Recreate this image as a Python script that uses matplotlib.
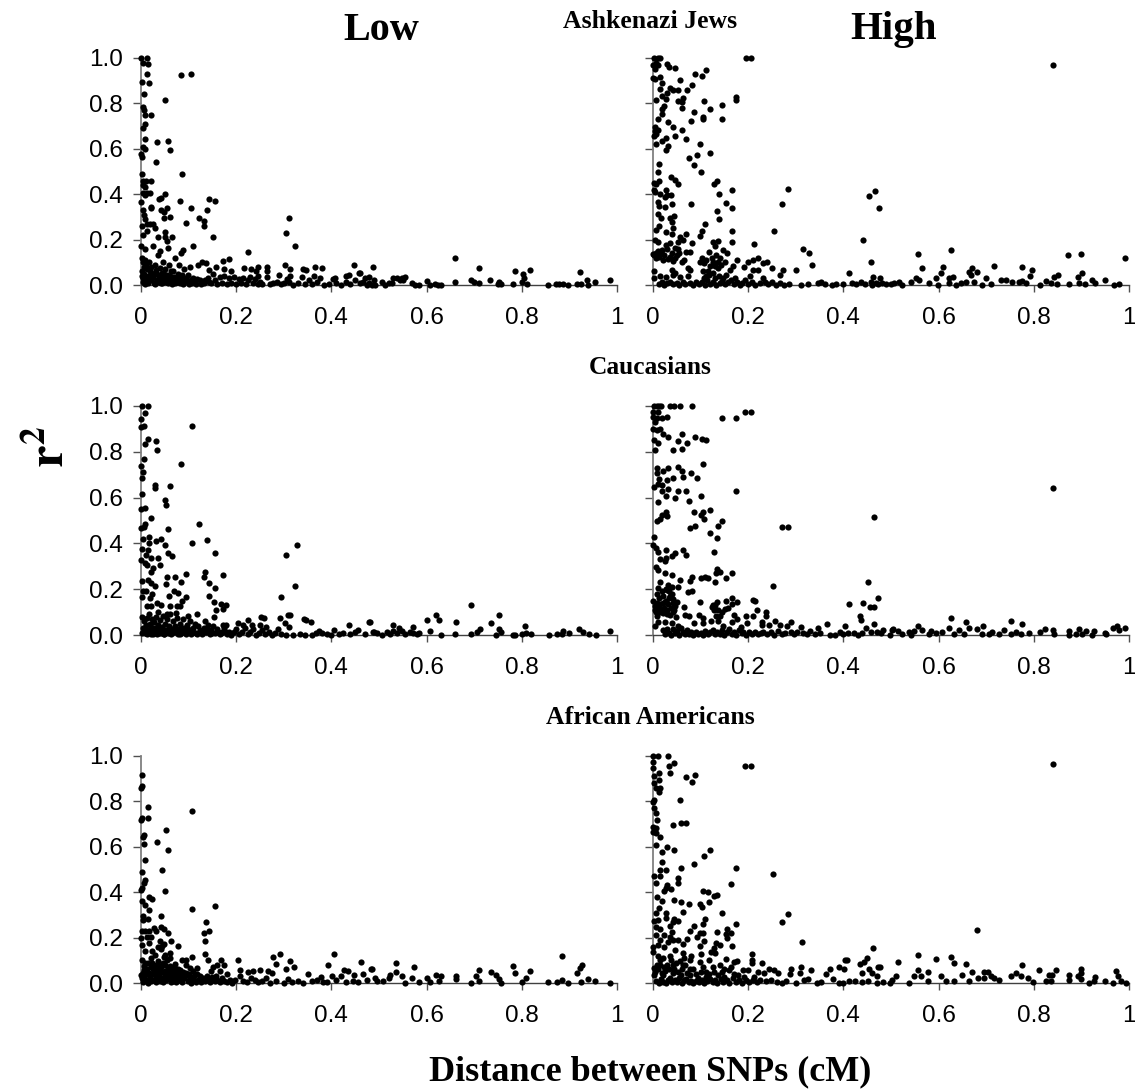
import matplotlib
matplotlib.use("Agg")
import matplotlib.pyplot as plt

plt.rcParams["mathtext.fontset"] = "stix"

# Values as (distance, r2)
aj_low = [
    (.001, 1.0), (.013, 1.0), (.004, .98), (.015, .975), (.013, .93), (.017, .89), (.002, .895), (.006, .84),
    (.004, .785), (.007, .77), (.022, .75), (.008, .75), (.009, .71), (.005, .69), (.008, .645), (.004, .61),
    (.008, .60), (.001, .575), (.003, .565), (.085, .925), (.106, .93), (.050, .815), (.033, .63), (.056, .635),
    (.060, .595), (.032, .54), (.086, .49), (.003, .49), (.022, .46), (.005, .46), (.011, .46), (.004, .44),
    (.008, .43), (.005, .405), (.012, .405), (.018, .405), (.008, .395), (0, .365), (.038, .38), (.051, .40),
    (.041, .385), (.081, .37), (.142, .38), (.155, .37), (.106, .34), (.138, .33), (.122, .295), (.133, .28),
    (.132, .26), (.095, .275), (.020, .34), (.022, .345), (.055, .34), (.043, .33), (.048, .32), (.048, .295),
    (.060, .30), (.005, .33), (.007, .31), (.008, .29), (.003, .26), (.012, .27), (.018, .27), (.005, .22),
    (.013, .24), (.026, .27), (.029, .25), (.036, .21), (.066, .21), (.050, .235), (.050, .21), (.055, .195),
    (.152, .21), (.310, .295), (.305, .23), (.323, .17), (.225, .145), (.110, .17), (.089, .155), (.083, .14),
    (.057, .165), (.040, .15), (.026, .17), (.001, .17), (.008, .16), (.173, .107), (.185, .116), (.157, .08),
    (.175, .07), (.19, .063), (.216, .075), (.232, .072), (.241, .063), (.246, .038), (.246, .079), (.265, .08),
    (.264, .06), (.264, .035), (.29, .045), (.302, .087), (.313, .07), (.313, .038), (.306, .026), (.34, .07),
    (.346, .068), (.339, .035), (.366, .078), (.38, .073), (.363, .041), (.376, .03), (.448, .087), (.488, .078),
    (.457, .053), (.431, .04), (.437, .045), (.404, .026), (.407, .03), (.46, .054), (.48, .034), (.489, .022),
    (.46, .007), (.467, .015), (.474, 0), (.485, 0), (.492, 0), (.506, .015), (.513, 0), (.52, .007),
    (.527, .007), (.53, .03), (.537, .03), (.544, .022), (.548, .03), (.551, .022), (.555, .034), (.569, .01),
    (.576, 0), (.583, 0), (.6, .018), (.607, 0), (.617, .003), (.624, 0), (.631, 0), (.66, .12),
    (.66, .012), (.71, .073), (.694, .022), (.70, .015), (.71, .01), (.734, .023), (.75, .003), (.753, .012),
    (.757, .003), (.781, .003), (.785, .062), (.802, .048), (.805, .03), (.817, .066), (.80, .012), (.811, .003),
    (.856, 0), (.872, .003), (.879, .003), (.886, .003), (.898, 0), (.917, .003), (.924, .003), (.922, .056),
    (.937, .02), (.94, 0), (.953, .013), (.985, .02),
    (.002, .12), (.004, .10), (.006, .08), (.003, .06), (.009, .11), (.011, .09), (.013, .07), (.002, .04),
    (.005, .03), (.007, .05), (.01, .02), (.014, .04), (.016, .10), (.018, .06), (.021, .08), (.023, .03),
    (.025, .05), (.027, .01), (.029, .09), (.031, .065), (.033, .02), (.035, .13), (.037, .04), (.039, .075),
    (.042, .01), (.044, .055), (.046, .10), (.048, .03), (.051, .07), (.053, .015), (.055, .045), (.058, .09),
    (.061, .025), (.063, .06), (.066, .005), (.069, .035), (.072, .12), (.075, .015), (.078, .05), (.08, .09),
    (.084, .03), (.088, .005), (.091, .07), (.095, .02), (.098, .045), (.103, .08), (.107, .01), (.11, .03),
    (.115, .005), (.12, .09), (.124, .02), (.128, .10), (.132, .01), (.136, .095), (.14, .03), (.143, .065),
    (.148, .01), (.152, .05), (.156, .02), (.16, .005), (.165, .035), (.17, .01), (.175, .04), (.18, .005),
    (.185, .03), (.19, .01), (.195, .035), (.2, .005), (.205, .025), (.21, .01), (.215, .03), (.22, .005),
    (.225, .02), (.23, .035), (.235, .01), (.24, .025), (.245, .005), (.25, .015), (.255, .005), (.27, .003),
    (.278, .01), (.285, .015), (.295, .005), (.3, .01), (.31, .015), (.32, 0), (.33, .01), (.345, .005),
    (.352, .02), (.36, .005), (.37, .015), (.385, 0), (.395, .005), (.41, .01), (.42, 0), (.43, .015),
    (.44, .005), (.45, .02), (.47, .03), (.478, .01),
    (.004, .015), (.008, .005), (.012, .03), (.015, .01), (.019, .02), (.022, .055), (.026, .035), (.03, .005),
    (.034, .05), (.038, .015), (.041, .03), (.045, .01), (.049, .05), (.052, .03), (.057, .008), (.06, .04),
    (.065, .02), (.068, .06), (.071, .008), (.074, .03), (.079, .02), (.082, .01), (.086, .045), (.09, .015),
    (.094, .03), (.1, .005), (.105, .02), (.112, .012), (.118, .025), (.126, .005), (.134, .02), (.142, .012),
]

aj_high = [
    (.003, 1.0), (.01, 1.0), (.015, 1.0), (.0, .97), (.007, .978), (.004, .95), (.01, .97), (.029, .974),
    (.034, .96), (.046, .956), (.112, .949), (.089, .931), (.102, .921), (.001, .91), (.005, .908), (.014, .915),
    (.057, .905), (.019, .888), (.082, .882), (.015, .862), (.036, .866), (.041, .857), (.03, .847), (.053, .857),
    (.071, .857), (.018, .831), (.028, .821), (.007, .816), (.175, .829), (.175, .813), (.053, .81), (.062, .822),
    (.06, .808), (.107, .81), (.023, .79), (.018, .776), (.145, .793), (.06, .78), (.119, .776), (.086, .762),
    (.019, .752), (.011, .732), (.106, .742), (.106, .73), (.145, .732), (.079, .722), (.032, .719), (.041, .694),
    (.005, .697), (.011, .682), (.004, .679), (.06, .682), (.002, .657), (.007, .665), (.046, .657), (.027, .646),
    (.019, .633), (.069, .641), (.006, .62), (.099, .62), (.032, .611), (.027, .596), (.119, .583), (.093, .574),
    (.075, .56), (.013, .532), (.087, .528), (.1, .496), (.01, .496), (.037, .475), (.046, .461), (.053, .443),
    (.013, .456), (.002, .449), (.007, .443), (.135, .456), (.129, .445), (.165, .417), (.138, .402), (.002, .42),
    (.005, .41), (.015, .402), (.027, .417), (.029, .395), (.037, .395), (.025, .388), (.284, .421), (.272, .359),
    (.153, .363), (.166, .341), (.079, .359), (.039, .359), (.011, .366), (.013, .348), (.025, .345), (.135, .325),
    (.138, .289), (.011, .312), (.016, .296), (.035, .293), (.044, .303), (.039, .278), (.109, .268), (.013, .259),
    (.007, .242), (.041, .249), (.102, .239), (.099, .216), (.165, .238), (.254, .238), (.028, .232), (.039, .224),
    (.056, .213), (.069, .223), (.004, .198), (.011, .188), (.063, .198), (.081, .184), (.035, .187), (.053, .188),
    (.126, .19), (.137, .195), (.131, .172), (.167, .191), (.213, .179), (.442, .197), (.316, .157), (.328, .14),
    (.333, .087), (.3, .067), (.458, .103), (.466, .415), (.454, .392), (.475, .341), (.411, .055), (.147, .155),
    (.156, .14), (.117, .144), (.077, .144), (.07, .147), (.053, .157), (.046, .162), (.028, .176), (.018, .155),
    (.007, .14), (.001, .137), (.013, .125), (.021, .111), (.035, .125), (.046, .118), (.06, .103), (.102, .118),
    (.098, .103), (.124, .118), (.137, .103), (.151, .103), (.177, .108), (.2, .103), (.211, .111), (.22, .117),
    (.232, .099), (.239, .101), (.251, .073), (.274, .067), (.192, .079), (.211, .064), (.22, .064), (.168, .082),
    (.161, .067), (.13, .082), (.137, .074), (.074, .074), (.077, .067), (.039, .067), (.046, .052), (.003, .06),
    (.002, .031), (.014, .041), (.028, .035), (.042, .045), (.056, .035), (.074, .038), (.105, .06), (.116, .06),
    (.112, .038), (.126, .052), (.154, .045), (.172, .031), (.204, .038), (.232, .031), (.267, .045),
    (.556, .138), (.627, .154), (.565, .073), (.61, .081), (.606, .051), (.594, .029), (.621, .032), (.631, .037),
    (.67, .075), (.664, .059), (.681, .059), (.668, .044), (.717, .084), (.776, .079), (.797, .066), (.792, .041),
    (.872, .131), (.899, .135), (.992, .12), (.85, .044), (.843, .037), (.902, .051), (.893, .037), (.923, .022),
    (.95, .022), (.699, .029), (.552, .032), (.559, .022), (.542, .012), (.476, .032), (.463, .037), (.458, .015),
    (.469, .007), (.481, .007), (.5, .003), (.507, .007), (.516, .015), (.524, 0), (.58, .007), (.598, 0),
    (.622, .007), (.636, 0), (.647, .01), (.657, .015), (.675, .015), (.692, 0), (.71, .003), (.731, .022),
    (.741, .022), (.755, .015), (.769, .015), (.776, .019), (.783, .01), (.813, 0), (.825, .019), (.836, .007),
    (.848, .003), (.874, .003), (.895, .007), (.907, .003), (.929, .007), (.969, 0), (.979, .003), (.84, .97),
    (.195, 1.0), (.206, 1.0),
    (.012, .005), (.018, .012), (.024, 0), (.03, .008), (.036, .015), (.043, .003), (.05, .01), (.055, 0),
    (.062, .012), (.068, .004), (.078, .01), (.084, 0), (.09, .015), (.096, .005), (.103, .012), (.109, 0),
    (.114, .02), (.12, .005), (.127, .015), (.133, 0), (.14, .01), (.146, .018), (.152, .003), (.158, .012),
    (.164, .02), (.17, .005), (.176, .014), (.182, .002), (.188, .01), (.194, .02), (.2, .006), (.208, .013),
    (.214, .002), (.224, .01), (.235, .012), (.242, .003), (.25, .012), (.258, .001), (.266, .008), (.276, .002),
    (.285, .003), (.31, .002), (.325, .004), (.347, .008), (.353, .012), (.362, .005), (.375, .001), (.385, .006),
    (.4, .003), (.418, .01), (.427, .003), (.436, .012), (.445, .005), (.46, .002), (.472, .004), (.49, .003),
    (.003, .13), (.006, .12), (.01, .15), (.016, .14), (.024, .13), (.03, .16), (.032, .115), (.04, .14),
    (.043, .105), (.05, .13), (.055, .14), (.065, .11), (.108, .095), (.112, .11), (.12, .085), (.126, .1),
    (.133, .13), (.14, .12), (.143, .09), (.108, .03), (.118, .045), (.13, .03), (.138, .04), (.148, .03),
]

cau_low = [
    (.003, 1.0), (.015, 1.0), (.008, .97), (0, .945), (0, .908), (.006, .912), (.107, .912), (.015, .857),
    (.031, .848), (.009, .832), (.033, .806), (.085, .747), (.006, .769), (.001, .739), (.005, .712), (.003, .686),
    (.03, .657), (.029, .641), (.061, .65), (.003, .616), (.05, .588), (.052, .569), (.001, .55), (.008, .553),
    (.022, .512), (.008, .486), (.001, .467), (.006, .472), (.056, .463), (.122, .486), (.107, .401), (.138, .416),
    (.155, .358), (.305, .349), (.327, .391), (.323, .215), (.294, .166), (.005, .42), (.017, .426), (.017, .401),
    (.031, .409), (.043, .42), (.05, .394), (.003, .377), (.015, .372), (.056, .358), (.066, .347), (.001, .328),
    (.01, .35), (.02, .336), (.035, .337), (.008, .314), (.012, .307), (.039, .304), (.026, .292), (.02, .277),
    (.054, .253), (.071, .255), (.094, .266), (.134, .276), (.132, .253), (.173, .264), (.003, .234), (.015, .238),
    (.02, .226), (.03, .216), (.052, .223), (.085, .231), (.142, .225), (.156, .204), (.005, .194), (.01, .19),
    (.003, .168), (.024, .18), (.019, .161), (.059, .171), (.069, .19), (.077, .184), (.095, .165), (.086, .15),
    (.143, .169), (.153, .146), (.169, .134), (.178, .131), (.172, .114), (.158, .108), (.012, .127), (.022, .127),
    (.033, .139), (.043, .131), (.061, .127), (.075, .128), (.082, .128), (.118, .09), (.135, .061), (.154, .077),
    (.098, .085), (.073, .095), (.054, .09), (.036, .102), (.252, .079), (.259, .074), (.291, .076), (.308, .086),
    (.314, .088), (.303, .054), (.311, .036), (.288, .026), (.343, .069), (.346, .067), (.358, .058), (.204, .053),
    (.225, .066), (.263, .036), (.251, .044), (.233, .044), (.214, .044), (.179, .044), (.172, .044), (.438, .042),
    (.48, .055), (.456, .022), (.406, .022), (.374, .018), (.367, .007), (.489, .012),
    (.482, .058), (.53, .043), (.541, .03), (.572, .036), (.6, .065), (.619, .087), (.626, .067), (.607, .017),
    (.631, 0), (.661, .057), (.659, .003), (.694, .129), (.693, .003), (.705, .013), (.712, .025), (.735, .054),
    (.753, .086), (.752, .025), (.757, .015), (.746, 0), (.781, 0), (.786, .002), (.806, .039), (.801, .006),
    (.809, .01), (.82, .003), (.858, 0), (.873, .006), (.886, .017), (.884, .003), (.9, .01), (.921, .025),
    (.928, .013), (.941, .006), (.955, 0), (.985, .019), (.488, .013), (.495, .007), (.506, 0), (.516, .013),
    (.523, .003), (.53, .017), (.537, .007), (.548, .017), (.555, .003), (.565, .013), (.572, .01), (.579, .003),
    (.585, .01),
    (.002, .08), (.004, .03), (.006, .06), (.008, .01), (.01, .045), (.012, .075), (.014, .02), (.016, .09),
    (.018, .05), (.02, .005), (.022, .035), (.024, .07), (.026, .015), (.028, .055), (.03, .03), (.032, .08),
    (.034, .005), (.036, .045), (.038, .02), (.04, .065), (.042, .01), (.044, .035), (.046, .085), (.048, .003),
    (.05, .05), (.052, .02), (.055, .07), (.057, .01), (.059, .04), (.061, .09), (.063, .003), (.065, .025),
    (.067, .06), (.069, .012), (.072, .04), (.075, .075), (.077, .005), (.079, .025), (.082, .05), (.085, .01),
    (.088, .07), (.091, .03), (.094, .005), (.097, .045), (.1, .015), (.103, .06), (.106, .003), (.11, .03),
    (.113, .05), (.116, .01), (.12, .04), (.124, .02), (.128, .005), (.132, .03), (.136, .012), (.14, .045),
    (.144, .003), (.148, .022), (.152, .04), (.156, .008), (.16, .025), (.165, .003), (.17, .015), (.175, .03),
    (.18, .005), (.185, .015), (.19, .002), (.195, .012), (.2, .025), (.206, .003), (.212, .015), (.218, .03),
    (.224, .005), (.23, .012), (.236, .025), (.242, 0), (.248, .01), (.254, .02), (.26, .005), (.268, .012),
    (.275, 0), (.282, .008), (.295, .004), (.305, .002), (.32, 0), (.335, .003), (.345, 0), (.36, .002),
    (.38, .01), (.39, .004), (.4, 0), (.415, .004), (.425, .01), (.44, .005), (.45, .015), (.47, .006),
    (.003, .01), (.006, .018), (.009, .03), (.013, .005), (.017, .012), (.021, .025), (.025, .004), (.029, .015),
    (.033, .025), (.037, .008), (.041, .015), (.045, .02), (.049, .006), (.053, .012), (.058, .025), (.062, .008),
    (.066, .012), (.071, .02), (.076, .015), (.081, .006), (.086, .03), (.092, .012), (.098, .025), (.104, .008),
    (.109, .015), (.118, .005), (.126, .012), (.138, .025), (.15, .01), (.162, .015), (.168, .008), (.178, .012),
]

cau_high = [
    (.003, 1.0), (.008, 1.0), (.013, 1.0), (.016, 1.0), (.035, 1.0), (.044, 1.0), (.057, 1.0), (.082, 1.0),
    (.001, .974), (.011, .974), (.001, .952), (.008, .948), (.018, .948), (.029, .95), (.004, .93), (.145, .948),
    (.175, .949), (.194, .972), (.205, .975), (.001, .901), (.008, .897), (.015, .898), (.02, .879), (.061, .878),
    (.032, .863), (.052, .847), (.071, .838), (.089, .864), (.102, .856), (.112, .85), (.003, .85), (.01, .838),
    (.041, .809), (.06, .813), (.004, .806), (.106, .745), (.008, .729), (.009, .707), (.022, .717), (.032, .729),
    (.053, .733), (.06, .714), (.063, .69), (.08, .706), (.093, .685), (.041, .685), (.029, .679), (.013, .681),
    (.011, .66), (.003, .646), (.018, .656), (.032, .638), (.019, .628), (.053, .631), (.07, .628), (.175, .631),
    (.027, .606), (.046, .598), (.075, .587), (.1, .605), (.01, .582), (.119, .545), (.087, .536), (.105, .536),
    (.1, .522), (.108, .507), (.027, .536), (.029, .519), (.018, .522), (.015, .507), (.009, .496), (.464, .517),
    (.145, .496), (.137, .474), (.088, .477), (.078, .466), (.272, .471), (.284, .471), (.119, .446), (.135, .424),
    (.003, .43), (.001, .395), (.006, .379), (.011, .362), (.027, .373), (.064, .373), (.07, .348), (.129, .364),
    (.047, .357), (.039, .344), (.027, .335), (.015, .332), (.025, .321), (.006, .296), (.011, .284), (.025, .271),
    (.039, .264), (.135, .289), (.133, .271), (.14, .274), (.165, .27), (.153, .251), (.13, .23), (.116, .248),
    (.109, .255), (.101, .249), (.082, .255), (.078, .235), (.056, .242), (.015, .23), (.011, .204), (.053, .208),
    (.032, .22), (.039, .208), (.03, .197), (.081, .191), (.073, .187), (.253, .213), (.452, .233), (.473, .162),
    (.441, .14), (.411, .136), (.455, .121), (.464, .121), (.434, .085), (.436, .067), (.464, .05), (.404, .041),
    (.365, .05), (.008, .179), (.022, .172), (.036, .172), (.043, .157), (.001, .15), (.004, .128), (.015, .136),
    (.025, .143), (.032, .136), (.05, .146), (.046, .128), (.065, .122), (.098, .146), (.135, .143), (.13, .131),
    (.124, .121), (.128, .109), (.154, .15), (.166, .162), (.165, .136), (.177, .143), (.21, .155), (.214, .147),
    (.151, .114), (.158, .118), (.144, .099), (.132, .085), (.14, .085), (.219, .111), (.238, .099), (.237, .085),
    (.21, .085), (.195, .085), (.17, .089), (.177, .07), (.198, .052), (.184, .036), (.097, .089), (.105, .073),
    (.121, .063), (.067, .087), (.076, .082), (.036, .089), (.048, .077), (.006, .099), (.008, .082), (.015, .099),
    (.004, .041), (.011, .055), (.025, .055), (.039, .052), (.053, .041), (.086, .051), (.105, .052), (.137, .063),
    (.147, .041), (.165, .055), (.229, .055), (.229, .044), (.244, .045), (.256, .063), (.267, .045), (.281, .041),
    (.289, .055), (.31, .036), (.347, .029), (.329, .019), (.448, .029), (.392, .012), (.422, .009), (.503, .022),
    (.84, .64), (.626, .073), (.657, .058), (.752, .06), (.775, .047), (.694, .039), (.556, .039), (.483, .022),
    (.504, .025), (.514, .017), (.538, .013), (.549, .017), (.566, .02), (.584, .017), (.622, .032), (.643, .022),
    (.664, .032), (.681, .028), (.713, .013), (.738, .022), (.762, .013), (.812, .013), (.824, .025), (.84, .022),
    (.873, .017), (.895, .025), (.909, .017), (.927, .017), (.95, .01), (.967, .032), (.975, .039), (.992, .032),
    (.979, .022), (.497, 0), (.524, .003), (.542, 0), (.58, .003), (.594, .01), (.608, .013), (.633, .003),
    (.654, .003), (.692, .003), (.706, .003), (.727, .003), (.752, .003), (.773, .006), (.79, .01), (.843, .003),
    (.874, 0), (.888, .003), (.902, .003), (.923, 0), (.951, .003),
    (.022, .02), (.025, .005), (.03, .028), (.034, .01), (.038, .002), (.043, .025), (.047, .008), (.051, .018),
    (.055, 0), (.059, .03), (.063, .012), (.067, .003), (.071, .02), (.075, .006), (.08, .015), (.085, 0),
    (.09, .012), (.095, .004), (.1, .01), (.105, .002), (.11, .018), (.115, .005), (.12, .012), (.125, .022),
    (.13, .003), (.135, .015), (.14, .006), (.145, .02), (.15, 0), (.155, .012), (.16, .028), (.165, .005),
    (.17, .015), (.175, .002), (.18, .02), (.186, .008), (.19, .015), (.196, 0), (.202, .012), (.208, .005),
    (.214, .014), (.22, .003), (.226, .01), (.232, .015), (.24, .004), (.248, .012), (.255, .002), (.262, .016),
    (.27, .006), (.278, .01), (.29, .012), (.296, .004), (.302, .013), (.315, .01), (.323, .004), (.34, .005),
    (.35, .008), (.372, .002), (.382, .002), (.4, .005), (.41, .01), (.43, .002), (.44, .01), (.458, .015),
    (.47, .012), (.48, .008),
    (.004, .11), (.008, .14), (.012, .12), (.018, .11), (.02, .14), (.024, .12), (.028, .15), (.03, .11),
    (.034, .16), (.038, .12), (.041, .14), (.044, .11), (.012, .16), (.018, .19), (.027, .2), (.034, .19),
    (.04, .18), (.01, .115), (.022, .095), (.03, .09), (.042, .1), (.125, .13), (.13, .115), (.137, .11),
]

aa_low = [
    (.003, .916), (0, .858), (.002, .87), (.014, .774), (.107, .757), (.001, .72), (.003, .729), (.014, .726),
    (.052, .672), (.006, .652), (.005, .641), (.007, .614), (.034, .622), (.056, .587), (.008, .54), (.003, .488),
    (.045, .497), (.008, .455), (.006, .44), (.051, .406), (0, .408), (.003, .418), (.003, .362), (.008, .345),
    (.017, .377), (.023, .371), (.017, .321), (.107, .324), (.155, .34), (.005, .296), (.015, .28), (.043, .296),
    (.004, .276), (.137, .268), (.133, .22), (.143, .227), (.135, .185), (.002, .23), (.009, .227), (.016, .227),
    (.028, .242), (.032, .23), (.043, .248), (.049, .238), (.056, .22), (.001, .198), (.013, .201), (.022, .201),
    (.04, .183), (.064, .185), (.077, .163), (.002, .169), (.017, .176), (.049, .172), (.035, .158), (.045, .161),
    (.009, .139), (.023, .142), (.043, .151), (.03, .122), (.051, .125), (.061, .132), (.003, .103), (.009, .088),
    (.02, .11), (.036, .095), (.049, .114), (.061, .11), (.072, .085), (.086, .1), (.095, .103), (.107, .114),
    (.134, .126), (.141, .103), (.168, .103), (.175, .078), (.204, .101), (.208, .057), (.159, .081), (.152, .069),
    (.148, .051), (.095, .081), (.102, .066), (.118, .066), (.11, .051), (.082, .059), (.051, .081), (.026, .063),
    (.006, .059), (0, .037), (.016, .044), (.037, .037), (.058, .051), (.072, .044), (.086, .037), (.124, .029),
    (.166, .051), (.18, .04), (.225, .048), (.236, .051), (.251, .059), (.266, .051), (.276, .045), (.277, .113),
    (.291, .126), (.284, .082), (.313, .095), (.304, .062), (.321, .069), (.351, .04), (.392, .079), (.405, .128),
    (.427, .059), (.434, .051), (.462, .091), (.483, .063), (.467, .04), (.448, .037), (.42, .029), (.401, .029),
    (.378, .026), (.309, .018), (.232, .022), (.208, .029), (.491, .022),
    (.486, .063), (.535, .087), (.574, .069), (.535, .048), (.523, .037), (.548, .029), (.569, .022), (.601, .022),
    (.619, .037), (.631, .031), (.661, .029), (.626, .007), (.661, .019), (.693, 0), (.703, .029), (.71, .059),
    (.71, .007), (.735, .047), (.745, .034), (.752, .018), (.757, 0), (.781, .073), (.785, .044), (.817, .054),
    (.809, .022), (.801, .004), (.884, .117), (.926, .081), (.922, .066), (.917, .044), (.856, .006), (.873, .004),
    (.884, .012), (.898, 0), (.924, .003), (.939, .019), (.953, .01), (.985, 0), (.495, .007), (.509, .01),
    (.52, .022), (.555, 0), (.583, .003), (.607, .003),
    (.002, .02), (.005, .005), (.008, .035), (.01, .012), (.013, .06), (.015, .002), (.018, .025), (.02, .07),
    (.022, .008), (.025, .04), (.027, .015), (.03, .055), (.032, .003), (.034, .03), (.036, .065), (.039, .01),
    (.041, .022), (.044, .05), (.047, .004), (.05, .03), (.053, .012), (.056, .06), (.059, .02), (.062, .003),
    (.065, .04), (.068, .01), (.071, .025), (.074, .005), (.077, .06), (.08, .015), (.083, .03), (.087, .005),
    (.09, .02), (.094, .045), (.098, .008), (.102, .025), (.106, .002), (.11, .015), (.115, .005), (.12, .012),
    (.125, .003), (.13, .02), (.135, .008), (.14, .015), (.145, .003), (.15, .025), (.155, .008), (.16, .015),
    (.165, .003), (.17, .02), (.175, .01), (.18, .004), (.186, .015), (.192, .002), (.198, .012), (.215, .01),
    (.222, .003), (.24, .014), (.246, .004), (.255, .01), (.262, .02), (.27, .002), (.283, .008), (.3, .002),
    (.318, .006), (.33, .008), (.34, .002), (.36, .008), (.37, .012), (.383, .003), (.39, .006), (.41, .012),
    (.43, .004), (.445, .01), (.455, .005), (.475, .012),
    (.004, .045), (.007, .075), (.011, .05), (.015, .09), (.019, .04), (.023, .09), (.028, .08), (.031, .02),
    (.035, .08), (.038, .05), (.042, .07), (.046, .09), (.05, .055), (.054, .1), (.057, .04), (.06, .075),
    (.063, .03), (.067, .06), (.07, .07), (.075, .035), (.079, .045), (.084, .02), (.089, .05), (.093, .03),
    (.1, .04), (.105, .015), (.112, .03), (.118, .04), (.126, .015), (.138, .03), (.146, .015), (.158, .03),
]

aa_high = [
    (0, 1.0), (.01, 1.0), (.031, 1.0), (.001, .972), (.001, .947), (.033, .958), (.045, .969), (.035, .923),
    (.193, .958), (.205, .958), (.012, .926), (.003, .911), (.013, .896), (.07, .909), (.088, .917), (.081, .885),
    (.003, .879), (.007, .86), (.015, .857), (.012, .841), (.057, .807), (0, .797), (.003, .806), (.003, .769),
    (.007, .75), (.009, .718), (.041, .696), (.059, .707), (.07, .707), (0, .686), (.006, .685), (.001, .666),
    (.006, .66), (.014, .642), (.007, .609), (.03, .601), (.045, .585), (.018, .578), (.107, .561), (.119, .584),
    (.019, .531), (.086, .524), (.059, .508), (.175, .508), (.015, .499), (.028, .499), (.002, .47), (.015, .473),
    (.253, .48), (.052, .461), (.052, .441), (.007, .439), (.164, .436), (.029, .432), (.027, .418), (.023, .404),
    (.037, .413), (.105, .407), (.115, .399), (.134, .388), (.128, .382), (.008, .377), (.019, .361), (.045, .366),
    (.059, .355), (.075, .35), (.099, .349), (.102, .336), (.118, .355), (.012, .331), (.007, .309), (.028, .309),
    (.063, .314), (.027, .286), (.145, .309), (.283, .302), (.271, .267), (.002, .273), (.01, .276), (.045, .283),
    (.052, .273), (.042, .269), (.035, .25), (.11, .28), (.105, .261), (.087, .253), (.175, .258), (.007, .247),
    (.014, .239), (.078, .229), (.134, .226), (.155, .239), (.164, .22), (.154, .218), (.155, .199), (.098, .222),
    (.105, .222), (.092, .203), (.007, .21), (.024, .21), (.04, .225), (.035, .203), (.042, .188), (.014, .188),
    (.031, .181), (.052, .191), (.072, .196), (.108, .187), (.001, .159), (.01, .166), (.024, .159), (.047, .145),
    (.063, .171), (.099, .165), (.133, .178), (.14, .169), (.166, .165), (.314, .18), (.129, .152), (.122, .137),
    (.131, .134), (.001, .137), (.01, .12), (.063, .13), (.101, .126), (.08, .12), (.209, .127), (.463, .156),
    (.45, .112), (.403, .101), (.408, .101), (.443, .093), (.435, .085), (.473, .069), (.454, .061), (.461, .042),
    (.44, .045), (.391, .072), (.401, .061), (.372, .061), (.363, .038), (.378, .018), (.331, .058), (.311, .072),
    (.309, .044), (.29, .061), (.288, .038), (.326, .018), (.263, .042), (.255, .057), (.243, .063), (.23, .086),
    (.234, .042), (.209, .101), (.207, .086), (.22, .05), (.177, .096), (.17, .091), (.154, .104), (.117, .101),
    (.098, .093), (.077, .101), (.066, .108), (.056, .098), (.038, .101), (.014, .079), (.003, .064), (.024, .072),
    (.042, .079), (.063, .079), (.077, .061), (.105, .072), (.112, .05), (.126, .072), (.14, .079), (.164, .072),
    (.159, .057), (.189, .057), (.199, .057), (.003, .035), (.021, .035), (.042, .042), (.059, .035), (.077, .035),
    (.094, .02), (.112, .028), (.136, .035), (.15, .028), (.178, .035), (.192, .028), (.213, .028),
    (.476, .07), (.514, .092), (.556, .122), (.594, .107), (.627, .113), (.632, .088), (.657, .084), (.775, .081),
    (.811, .059), (.846, .056), (.9, .063), (.899, .044), (.973, .051), (.556, .056), (.549, .029), (.577, .048),
    (.563, .029), (.51, .029), (.503, .015), (.606, .029), (.577, .007), (.65, .034), (.67, .047), (.696, .048),
    (.703, .048), (.682, .022), (.696, .022), (.71, .029), (.717, .022), (.727, .015), (.752, .029), (.762, .044),
    (.773, .029), (.787, .022), (.798, .004), (.832, .037), (.839, .037), (.825, .007), (.836, .007), (.873, .034),
    (.873, .012), (.892, .029), (.899, .018), (.916, 0), (.929, .026), (.927, .007), (.95, .007), (.967, 0),
    (.976, .029), (.983, .007), (.993, 0), (.633, .007), (.664, .007), (.483, .003), (.497, 0), (.538, 0),
    (.615, .007), (.84, .965), (.68, .235),
    (.006, .01), (.012, .002), (.016, .018), (.022, .006), (.027, 0), (.032, .012), (.036, .022), (.04, .003),
    (.046, .015), (.05, .005), (.055, .02), (.06, .002), (.065, .012), (.07, .018), (.075, .004), (.08, .01),
    (.085, 0), (.09, .008), (.096, .003), (.102, .012), (.108, .002), (.114, .01), (.12, .018), (.125, .003),
    (.13, .012), (.135, .002), (.142, .016), (.148, .005), (.155, .012), (.16, .002), (.168, .02), (.174, .006),
    (.18, .012), (.186, .002), (.195, .012), (.202, .004), (.21, .012), (.218, .003), (.225, .014), (.238, .008),
    (.248, .015), (.26, .004), (.27, .002), (.28, .008), (.3, .002), (.318, .012), (.345, 0), (.352, .003),
    (.39, .001), (.4, .002), (.412, .008), (.425, .01), (.44, .004), (.452, .008), (.47, .002), (.47, .03),
    (.004, .05), (.008, .08), (.011, .06), (.015, .1), (.018, .045), (.022, .11), (.026, .055), (.03, .08),
    (.034, .06), (.036, .12), (.044, .06), (.048, .09), (.052, .05), (.06, .06), (.068, .08), (.072, .045),
    (.085, .06), (.09, .04), (.1, .05), (.118, .04), (.128, .05), (.145, .05), (.15, .06), (.17, .04),
]

x_ticks = [0, 0.2, 0.4, 0.6, 0.8, 1]
x_labels = ["0", "0.2", "0.4", "0.6", "0.8", "1"]
y_ticks = [0.0, 0.2, 0.4, 0.6, 0.8, 1.0]
y_labels = ["0.0", "0.2", "0.4", "0.6", "0.8", "1.0"]
panels = [[aj_low, aj_high], [cau_low, cau_high], [aa_low, aa_high]]

W, H = 1135, 1089
col_px = [(141, 617), (653, 1129)]
row_px = [(58, 285), (406, 635), (756, 983)]

fig = plt.figure(figsize=(W / 100, H / 100), dpi=100, facecolor="white")

for r, (top, bottom) in enumerate(row_px):
    for c, (left, right) in enumerate(col_px):
        ax = fig.add_axes([left / W, 1 - bottom / H, (right - left) / W, (bottom - top) / H])
        x, y = zip(*panels[r][c])
        ax.scatter(x, y, s=20, color="black", linewidths=0, clip_on=False, zorder=3)
        ax.set_xlim(0, 1)
        ax.set_ylim(0, 1)
        ax.spines["top"].set_visible(False)
        ax.spines["right"].set_visible(False)
        ax.spines["left"].set_color("#808080")
        ax.spines["bottom"].set_color("#404040")
        ax.spines["left"].set_linewidth(1.3)
        ax.spines["bottom"].set_linewidth(1.0)
        ax.set_xticks(x_ticks)
        ax.set_xticklabels(x_labels, family="Liberation Sans", fontsize=17.5)
        ax.set_yticks(y_ticks)
        ax.set_yticklabels(y_labels if c == 0 else [], family="Liberation Sans", fontsize=17.5)
        ax.tick_params(axis="x", length=5, width=1, color="#505050", pad=11)
        ax.tick_params(axis="y", length=6, width=1, color="#505050", pad=7)


def label(px, py, s, size, **kw):
    fig.text(px / W, 1 - py / H, s, family="Liberation Serif", fontweight="bold",
             fontsize=size, ha="center", va="center", **kw)


label(381, 30, "Low", 29)
label(894, 30, "High", 29.5)
label(650, 21, "Ashkenazi Jews", 18.5)
label(650, 368, "Caucasians", 18.3)
label(650, 717, "African Americans", 18.5)
label(650, 1072, "Distance between SNPs (cM)", 26)
label(52, 447, r"$\mathbf{r^2}$", 36, rotation=90)

fig.savefig("out.png", dpi=100)
